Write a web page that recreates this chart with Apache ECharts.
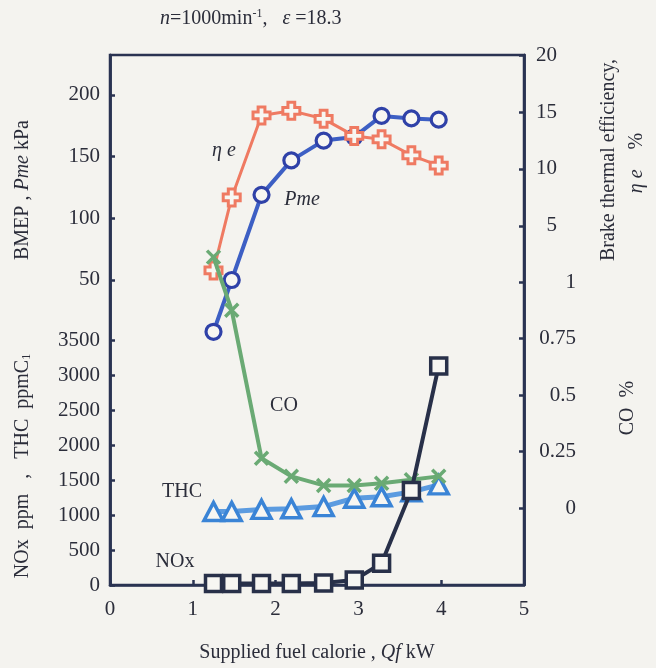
<!DOCTYPE html>
<html>
<head>
<meta charset="utf-8">
<script src="https://cdn.jsdelivr.net/npm/echarts@6/dist/echarts.min.js"></script>
<style>
  html, body { margin: 0; padding: 0; background: #f4f3ef; }
  #chart { width: 656px; height: 668px; }
</style>
</head>
<body>
<div id="chart"></div>
<script>
// Supplied fuel calorie Qf (kW) at each operating point
const qf = [1.25, 1.47, 1.83, 2.19, 2.58, 2.95, 3.28, 3.64, 3.97];
// Brake mean effective pressure Pme (kPa)
const pme = [8, 50, 119, 147, 163, 166, 183, 181, 180];
// Brake thermal efficiency ηe (%)
const etaE = [1.1, 7.5, 14.7, 15.1, 14.4, 12.9, 12.6, 11.2, 10.3];
// CO (%)
const co = [1.11, 0.875, 0.22, 0.14, 0.10, 0.10, 0.11, 0.125, 0.14];
// THC (ppmC1)
const thc = [1050, 1050, 1080, 1090, 1120, 1240, 1260, 1330, 1430];
// NOx (ppm)
const nox = [20, 20, 20, 20, 30, 70, 310, 1350, 3130];

// Tick labels on each axis
const xTicks = [0, 1, 2, 3, 4, 5];
const pmeTicks = [50, 100, 150, 200];
const emisTicks = [0, 500, 1000, 1500, 2000, 2500, 3000, 3500];
const etaTicks = [5, 10, 15, 20];
const coTicks = [0, 0.25, 0.5, 0.75, 1];

const FONT = '"Liberation Serif", "DejaVu Serif", serif';
const INK = '#2b2d3a';
const AXIS = '#2a3352';
const FS = 21;

const pairs = (ys) => qf.map((x, i) => [x, ys[i]]);
const plain = (v) => String(v);

const plusPath = 'path://M3,0H7V3H10V7H7V10H3V7H0V3H3Z';
const xPath = 'path://M0,0L10,10M10,0L0,10';

function yAxisBase(pos, min, max, ticks, labelOpts) {
  return {
    type: 'value', position: pos, min: min, max: max,
    axisLine: { show: true, onZero: false, lineStyle: { color: AXIS, width: 2.5 } },
    axisTick: { show: true, inside: true, length: 5, customValues: ticks, lineStyle: { color: AXIS, width: 2.5 } },
    axisLabel: Object.assign({ customValues: ticks, formatter: plain, color: INK, fontFamily: FONT, fontSize: FS }, labelOpts),
    splitLine: { show: false }
  };
}

const chart = echarts.init(document.getElementById('chart'), null, { renderer: 'canvas' });

chart.setOption({
  backgroundColor: '#f4f3ef',
  animation: false,
  grid: {
    left: 110, right: 132, top: 55, bottom: 83,
    show: true, borderColor: AXIS, borderWidth: 2.5, backgroundColor: 'transparent'
  },
  xAxis: {
    type: 'value', min: 0, max: 5, interval: 1,
    axisLine: { show: true, onZero: false, lineStyle: { color: AXIS, width: 2.5 } },
    axisTick: { show: true, inside: true, length: 5, lineStyle: { color: AXIS, width: 2.5 } },
    axisLabel: { color: INK, fontFamily: FONT, fontSize: FS, margin: 14, customValues: xTicks, formatter: plain },
    splitLine: { show: false },
    name: 'Supplied fuel calorie , {i|Qf} kW',
    nameLocation: 'middle', nameGap: 58,
    nameTextStyle: {
      color: INK, fontFamily: FONT, fontSize: 20,
      rich: { i: { fontStyle: 'italic', fontFamily: FONT, fontSize: 20, color: INK } }
    }
  },
  yAxis: [
    yAxisBase('left', -197.3, 232.4, pmeTicks, { margin: 10 }),
    yAxisBase('left', 0, 7571.4, emisTicks, { margin: 10 }),
    yAxisBase('right', -26.5, 20, etaTicks, { margin: 33, align: 'right' }),
    yAxisBase('right', -0.3407, 2.0044, coTicks, { margin: 52, align: 'right' })
  ],
  series: [
    {
      name: 'Pme', type: 'line', yAxisIndex: 0, data: pairs(pme),
      lineStyle: { color: '#3d5fc4', width: 4 },
      symbol: 'circle', symbolSize: 15,
      itemStyle: { color: '#f7f6f2', borderColor: '#2f41a8', borderWidth: 3.2 },
      z: 2
    },
    {
      name: 'ηe', type: 'line', yAxisIndex: 2, data: pairs(etaE),
      lineStyle: { color: '#ef7a62', width: 3 },
      symbol: plusPath, symbolSize: 17,
      itemStyle: { color: '#f7f6f2', borderColor: '#ef7a62', borderWidth: 3 },
      z: 3
    },
    {
      name: 'THC', type: 'line', yAxisIndex: 1, data: pairs(thc),
      lineStyle: { color: '#5b9be0', width: 5 },
      symbol: 'triangle', symbolSize: [19, 18],
      itemStyle: { color: '#f7f6f2', borderColor: '#3a84d6', borderWidth: 3.5 },
      z: 4
    },
    {
      name: 'CO', type: 'line', yAxisIndex: 3, data: pairs(co),
      lineStyle: { color: '#6aaa74', width: 4 },
      symbol: xPath, symbolSize: 13,
      itemStyle: { color: 'none', borderColor: '#6aaa74', borderWidth: 3.5 },
      z: 5
    },
    {
      name: 'NOx', type: 'line', yAxisIndex: 1, data: pairs(nox),
      lineStyle: { color: '#283049', width: 4 },
      symbol: 'rect', symbolSize: 16,
      itemStyle: { color: '#f7f6f2', borderColor: '#283049', borderWidth: 3.5 },
      z: 6
    }
  ],
  graphic: [
    {
      type: 'text', left: 160, top: 8,
      style: {
        text: '{i|n}=1000min{sup|-1},   {i|ε} =18.3',
        fill: INK, font: '20px ' + FONT,
        rich: {
          i: { fontStyle: 'italic', fontSize: 20, fontFamily: FONT, fill: INK },
          sup: { fontSize: 12, fontFamily: FONT, fill: INK, verticalAlign: 'top', padding: [0, 0, 10, 0] }
        }
      }
    },
    // left axis names
    {
      type: 'text', x: 23, y: 190, rotation: Math.PI / 2,
      style: {
        text: 'BMEP , {i|Pme} kPa', fill: INK, font: '20px ' + FONT,
        align: 'center', verticalAlign: 'middle',
        rich: { i: { fontStyle: 'italic', fontSize: 20, fontFamily: FONT, fill: INK } }
      }
    },
    {
      type: 'text', x: 23, y: 466, rotation: Math.PI / 2,
      style: {
        text: 'NOx  ppm   ,   THC  ppmC{sub|1}', fill: INK, font: '20px ' + FONT,
        align: 'center', verticalAlign: 'middle',
        rich: { sub: { fontSize: 12, fontFamily: FONT, fill: INK, verticalAlign: 'bottom', padding: [6, 0, 0, 0] } }
      }
    },
    // right axis names
    {
      type: 'text', x: 609, y: 160, rotation: Math.PI / 2,
      style: {
        text: 'Brake thermal efficiency,', fill: INK, font: '20px ' + FONT,
        align: 'center', verticalAlign: 'middle'
      }
    },
    {
      type: 'text', x: 637, y: 163, rotation: Math.PI / 2,
      style: {
        text: '{i|η e}    %', fill: INK, font: '20px ' + FONT,
        align: 'center', verticalAlign: 'middle',
        rich: { i: { fontStyle: 'italic', fontSize: 20, fontFamily: FONT, fill: INK } }
      }
    },
    {
      type: 'text', x: 628, y: 408, rotation: Math.PI / 2,
      style: {
        text: 'CO  %', fill: INK, font: '20px ' + FONT,
        align: 'center', verticalAlign: 'middle'
      }
    },
    // series labels inside the plot
    {
      type: 'text', x: 224, y: 151,
      style: { text: 'η e', fill: INK, font: 'italic 20px ' + FONT, align: 'center', verticalAlign: 'middle' }
    },
    {
      type: 'text', x: 302, y: 200,
      style: { text: 'Pme', fill: INK, font: 'italic 20px ' + FONT, align: 'center', verticalAlign: 'middle' }
    },
    {
      type: 'text', x: 284, y: 406,
      style: { text: 'CO', fill: INK, font: '20px ' + FONT, align: 'center', verticalAlign: 'middle' }
    },
    {
      type: 'text', x: 182, y: 492,
      style: { text: 'THC', fill: INK, font: '20px ' + FONT, align: 'center', verticalAlign: 'middle' }
    },
    {
      type: 'text', x: 175, y: 562,
      style: { text: 'NOx', fill: INK, font: '20px ' + FONT, align: 'center', verticalAlign: 'middle' }
    }
  ]
});
</script>
</body>
</html>
